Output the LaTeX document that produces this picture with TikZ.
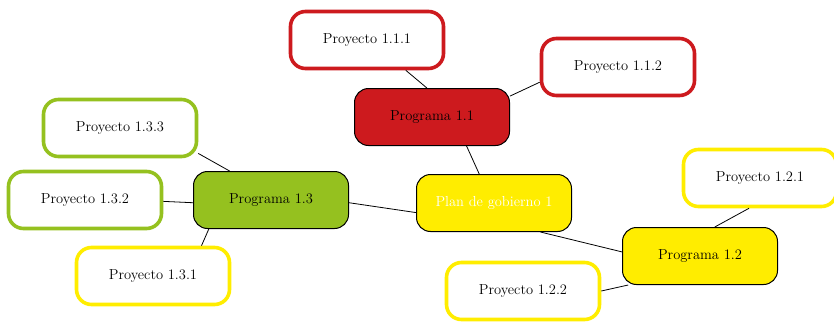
\documentclass[tikz,border=0pt]{standalone}
\definecolor{progred}{HTML}{CD1A1E}
\definecolor{proggreen}{HTML}{95C11F}
\definecolor{progyellow}{HTML}{FFED00}
\begin{document}
\begin{tikzpicture}[x=1pt,y=-1pt,font=\fontsize{14.5}{17}\selectfont]
    \tikzstyle{prog}=[draw=black,line width=1pt,rounded corners=14pt,minimum width=155pt,minimum height=57pt]
    \tikzstyle{proj}=[draw,fill=white,line width=3.6pt,rounded corners=15pt,minimum width=153pt,minimum height=57pt]
    \tikzstyle{link}=[line width=0.8pt]
    \useasboundingbox (0,0) rectangle (834,321);

    % centre and programmes
    \node[prog,fill=progyellow,text=white](plan) at (494,203){Plan de gobierno 1};
    \node[prog,fill=progred](prog11) at (432,117){Programa 1.1};
    \node[prog,fill=progyellow](prog12) at (700,256){Programa 1.2};
    \node[prog,fill=proggreen](prog13) at (271,200){Programa 1.3};

    % projects
    \node[proj,draw=progred](p111) at (367,40){Proyecto 1.1.1};
    \node[proj,draw=progred](p112) at (618,67){Proyecto 1.1.2};
    \node[proj,draw=progyellow](p121) at (760,178){Proyecto 1.2.1};
    \node[proj,draw=progyellow](p122) at (523,291){Proyecto 1.2.2};
    \node[proj,draw=progyellow](p131) at (153,276){Proyecto 1.3.1};
    \node[proj,draw=proggreen](p132) at (85,200){Proyecto 1.3.2};
    \node[proj,draw=proggreen](p133) at (120,128){Proyecto 1.3.3};

    \draw[link] (plan.117) -- (prog11.-40);
    \draw[link] (plan.-32) -- (prog12.177);
    \draw[link] (plan.187) -- (prog13.-2);
    \draw[link] (prog11.100) -- (p111.-38);
    \draw[link] (prog11.15) -- (p112.191);
    \draw[link] (prog12.63) -- (p121.250);
    \draw[link] (prog12.202) -- (p122.0);
    \draw[link] (prog13.205) -- (p131.32);
    \draw[link] (prog13.182) -- (p132.-1);
    \draw[link] (prog13.145) -- (p133.-18);
  \end{tikzpicture}
\end{document}
